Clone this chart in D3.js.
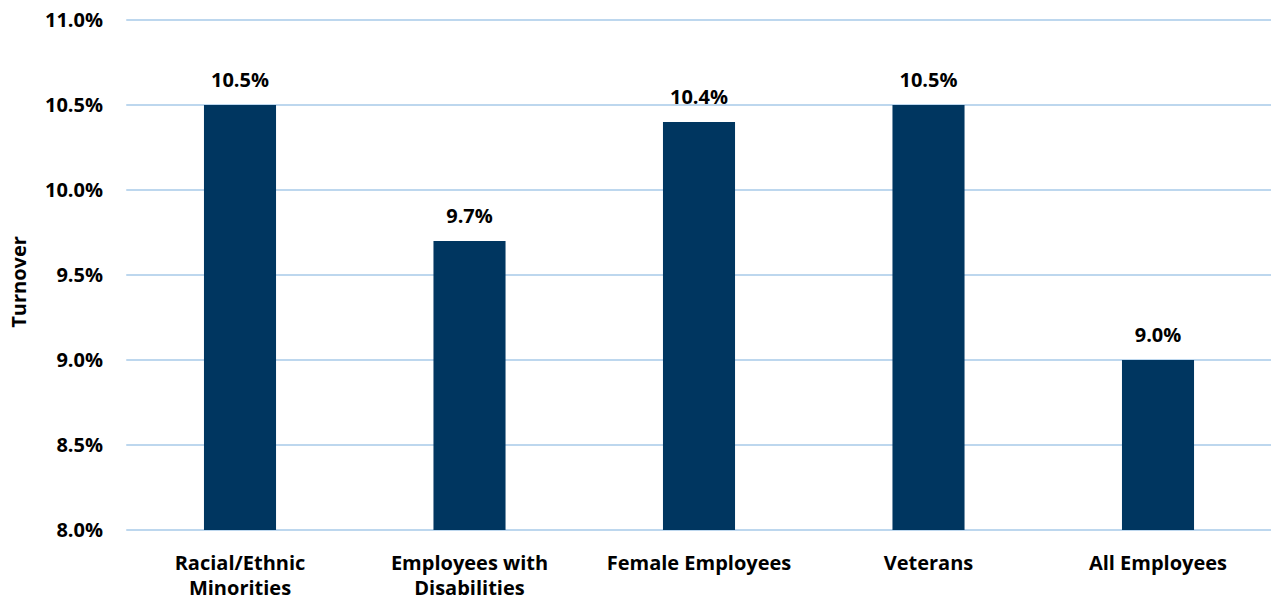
<!DOCTYPE html>
<html><head><meta charset="utf-8">
<script src="https://cdn.jsdelivr.net/npm/d3@7"></script>
<style>body{margin:0;background:#fff}text{font-family:"Open Sans","Noto Sans",sans-serif;font-weight:bold;fill:#000}</style>
</head><body><svg id="c" width="1271" height="603"></svg>
<script>
const categories = [["Racial/Ethnic","Minorities"],["Employees with","Disabilities"],["Female Employees"],["Veterans"],["All Employees"]];
const values = [10.5, 9.7, 10.4, 10.5, 9.0];
const yTicks = [8.0, 8.5, 9.0, 9.5, 10.0, 10.5, 11.0];
const yTitle = "Turnover";

const svg = d3.select("#c");
const m = {l:125.25, r:1272.75, t:20, b:530};
const keys = categories.map((c,i)=>i);
const x = d3.scaleBand().domain(keys).range([m.l, m.r]).paddingInner(0.686).paddingOuter(0.343);
const y = d3.scaleLinear().domain([8,11]).range([m.b, m.t]);
const fs = 20;

svg.append("g").selectAll("line").data(yTicks).join("line")
  .attr("x1", m.l+1).attr("x2", 1271).attr("y1", d=>y(d)).attr("y2", d=>y(d))
  .attr("stroke","#bdd7ee").attr("stroke-width",2);

svg.append("g").selectAll("text").data(yTicks).join("text")
  .attr("x",103).attr("y",d=>y(d)).attr("dy","0.36em").attr("text-anchor","end")
  .attr("font-size",fs).text(d=>d.toFixed(1)+"%");

svg.append("g").selectAll("rect").data(values).join("rect")
  .attr("x",(d,i)=>x(i)).attr("width",x.bandwidth())
  .attr("y",d=>y(d)).attr("height",d=>y(8)-y(d)).attr("fill","#003660");

svg.append("g").selectAll("text").data(values).join("text")
  .attr("x",(d,i)=>x(i)+x.bandwidth()/2).attr("y",d=>y(d)-18).attr("text-anchor","middle")
  .attr("font-size",fs).text(d=>d.toFixed(1)+"%");

const xl = svg.append("g").selectAll("text").data(categories).join("text")
  .attr("x",(d,i)=>x(i)+x.bandwidth()/2).attr("y",570).attr("text-anchor","middle").attr("font-size",fs);
xl.selectAll("tspan").data(d=>d).join("tspan")
  .attr("x",function(){return this.parentNode.getAttribute("x");})
  .attr("dy",(d,j)=>j===0?0:25).text(d=>d);

svg.append("text").attr("transform","translate(26,282) rotate(-90)").attr("text-anchor","middle")
  .attr("font-size",fs).text(yTitle);
</script></body></html>
